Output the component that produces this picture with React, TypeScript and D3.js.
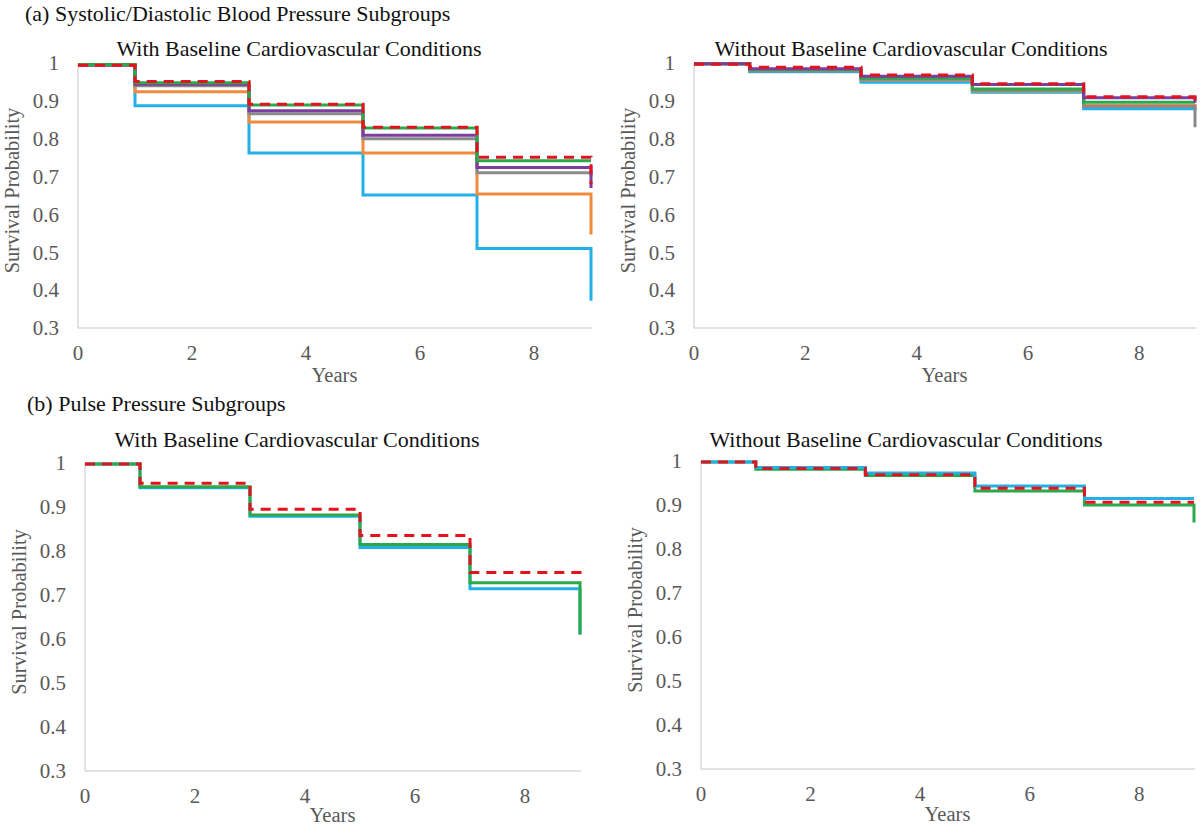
import React from "react";
import * as d3 from "d3";

// ---- data ----
const years = [0, 1, 3, 5, 7, 9]; // step times; last value = value at end of follow-up (year 9)
const yTicks = [0.3, 0.4, 0.5, 0.6, 0.7, 0.8, 0.9, 1];
const xTicks = [0, 2, 4, 6, 8];

// (a) Systolic/Diastolic, with baseline CV conditions
const aWithBlue = [0.995, 0.887, 0.762, 0.651, 0.51, 0.372];
const aWithOrange = [0.995, 0.924, 0.844, 0.762, 0.654, 0.547];
const aWithGray = [0.995, 0.94, 0.866, 0.8, 0.71, 0.7];
const aWithPurple = [0.995, 0.944, 0.874, 0.809, 0.724, 0.67];
const aWithGreen = [0.996, 0.948, 0.889, 0.828, 0.742, 0.742];
const aWithRef = [0.994, 0.951, 0.891, 0.83, 0.751, 0.68];

// (a) without baseline CV conditions
const aWithoutBlue = [0.998, 0.977, 0.949, 0.923, 0.879, 0.875];
const aWithoutOrange = [0.998, 0.98, 0.955, 0.926, 0.888, 0.88];
const aWithoutGray = [0.998, 0.979, 0.957, 0.928, 0.885, 0.83];
const aWithoutPurple = [0.998, 0.985, 0.965, 0.943, 0.908, 0.895];
const aWithoutGreen = [0.998, 0.983, 0.96, 0.931, 0.896, 0.896];
const aWithoutRef = [0.997, 0.989, 0.968, 0.945, 0.911, 0.9];

// (b) Pulse pressure, with baseline CV conditions
const bWithBlue = [0.998, 0.944, 0.879, 0.808, 0.714, 0.61];
const bWithGreen = [0.998, 0.946, 0.882, 0.815, 0.728, 0.61];
const bWithRef = [0.998, 0.954, 0.895, 0.835, 0.751, 0.745];

// (b) without baseline CV conditions
const bWithoutBlue = [0.998, 0.985, 0.973, 0.943, 0.915, 0.915];
const bWithoutGreen = [0.998, 0.981, 0.967, 0.932, 0.9, 0.86];
const bWithoutRef = [0.998, 0.983, 0.969, 0.938, 0.906, 0.906];

const C = {
  blue: "#22b0e6",
  orange: "#ef8a3e",
  gray: "#8a8a8a",
  purple: "#7b3d9e",
  green: "#2aa84a",
  red: "#e3121c",
};

type Series = { values: number[]; color: string; dashed?: boolean };

const panels = [
  {
    title: "With Baseline Cardiovascular Conditions",
    titleX: 299, titleY: 56,
    left: 78, right: 591, top: 63, bottom: 328, yearsOff: 54,
    series: [
      { values: aWithBlue, color: C.blue },
      { values: aWithOrange, color: C.orange },
      { values: aWithGray, color: C.gray },
      { values: aWithPurple, color: C.purple },
      { values: aWithGreen, color: C.green },
      { values: aWithRef, color: C.red, dashed: true },
    ] as Series[],
  },
  {
    title: "Without Baseline Cardiovascular Conditions",
    titleX: 911, titleY: 56,
    left: 694, right: 1195, top: 63, bottom: 328, yearsOff: 54,
    series: [
      { values: aWithoutBlue, color: C.blue },
      { values: aWithoutOrange, color: C.orange },
      { values: aWithoutGray, color: C.gray },
      { values: aWithoutGreen, color: C.green },
      { values: aWithoutPurple, color: C.purple },
      { values: aWithoutRef, color: C.red, dashed: true },
    ] as Series[],
  },
  {
    title: "With Baseline Cardiovascular Conditions",
    titleX: 297, titleY: 447,
    left: 85, right: 580, top: 463, bottom: 771, yearsOff: 51,
    series: [
      { values: bWithBlue, color: C.blue },
      { values: bWithGreen, color: C.green },
      { values: bWithRef, color: C.red, dashed: true },
    ] as Series[],
  },
  {
    title: "Without Baseline Cardiovascular Conditions",
    titleX: 906, titleY: 447,
    left: 701, right: 1194, top: 461, bottom: 769, yearsOff: 52,
    series: [
      { values: bWithoutGreen, color: C.green },
      { values: bWithoutBlue, color: C.blue },
      { values: bWithoutRef, color: C.red, dashed: true },
    ] as Series[],
  },
];

const serif = "'Liberation Serif', 'Times New Roman', serif";
const axisGray = "#595959";

function Panel({ p }: { p: (typeof panels)[number] }) {
  const x = d3.scaleLinear().domain([0, 9]).range([p.left, p.right]);
  const y = d3.scaleLinear().domain([0.3, 1]).range([p.bottom, p.top]);
  const line = d3
    .line<[number, number]>()
    .x((d) => x(d[0]))
    .y((d) => y(d[1]))
    .curve(d3.curveStepAfter);
  const midY = (p.top + p.bottom) / 2 - 5;
  return (
    <g>
      <text x={p.titleX} y={p.titleY} textAnchor="middle" fontFamily={serif} fontSize={22} fill="#111">
        {p.title}
      </text>
      {/* axes */}
      <line x1={x(0)} x2={x(9) + 1} y1={y(0.3)} y2={y(0.3)} stroke="#d9d9d9" strokeWidth={1.5} />
      <line x1={x(0)} x2={x(0)} y1={y(0.3)} y2={y(1)} stroke="#d9d9d9" strokeWidth={1.5} />
      {yTicks.map((t) => (
        <text key={t} x={x(0) - 19} y={y(t)} dy="0.35em" textAnchor="end" fontFamily={serif} fontSize={21} fill={axisGray}>
          {String(t)}
        </text>
      ))}
      {xTicks.map((t) => (
        <text key={t} x={x(t)} y={y(0.3) + 32} textAnchor="middle" fontFamily={serif} fontSize={21} fill={axisGray}>
          {t}
        </text>
      ))}
      <text x={(p.left + p.right) / 2} y={y(0.3) + p.yearsOff} textAnchor="middle" fontFamily={serif} fontSize={20.5} fill={axisGray}>
        Years
      </text>
      <text
        transform={`translate(${p.left - 66},${midY}) rotate(-90)`}
        dy="0.35em"
        textAnchor="middle"
        fontFamily={serif}
        fontSize={20.5}
        fill={axisGray}
      >
        Survival Probability
      </text>
      {p.series.map((s, i) => (
        <path
          key={i}
          d={line(years.map((t, j) => [t, s.values[j]] as [number, number])) || ""}
          fill="none"
          stroke={s.color}
          strokeWidth={3}
          strokeDasharray={s.dashed ? "10 7" : undefined}
        />
      ))}
    </g>
  );
}

export default function App() {
  return (
    <svg
      width={1200}
      height={828}
      style={{ position: "absolute", left: 0, top: 0, background: "#fff" }}
    >
      <rect width={1200} height={828} fill="#fff" />
      <text x={25} y={21} fontFamily={serif} fontSize={22} fill="#111">
        (a)  Systolic/Diastolic Blood Pressure Subgroups
      </text>
      <text x={27} y={411} fontFamily={serif} fontSize={22} fill="#111">
        (b)  Pulse Pressure Subgroups
      </text>
      {panels.map((p, i) => (
        <Panel key={i} p={p} />
      ))}
    </svg>
  );
}
